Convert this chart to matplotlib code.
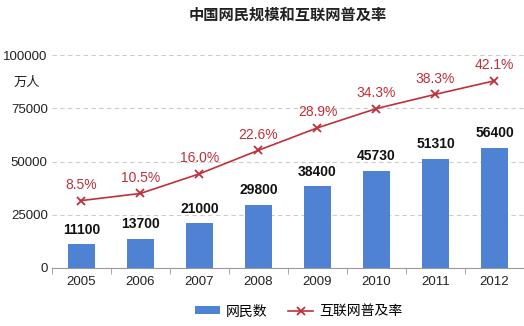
import matplotlib
matplotlib.use("Agg")
import matplotlib.pyplot as plt
import numpy as np

plt.rcParams["font.family"] = ["Liberation Sans", "Noto Sans CJK SC", "DejaVu Sans"]

years = ["2005", "2006", "2007", "2008", "2009", "2010", "2011", "2012"]
users = [11100, 13700, 21000, 29800, 38400, 45730, 51310, 56400]
rate = [8.5, 10.5, 16.0, 22.6, 28.9, 34.3, 38.3, 42.1]

BAR = "#4f82d3"
RED = "#c0303a"

fig = plt.figure(figsize=(5.24, 3.26), dpi=100)
ax = fig.add_axes([0.099, 0.178, 0.901, 0.653])
x = np.arange(len(years))

ax.bar(x, users, width=0.47, color=BAR, zorder=2, label="网民数")
for xi, v in zip(x, users):
    ax.text(xi, v + 3500, f"{v}", ha="center", va="bottom", fontsize=10,
            fontweight="bold", color="#111111")

ax.set_xlim(-0.5, len(years) - 0.5)
ax.set_ylim(0, 100000)
ax.set_yticks([0, 25000, 50000, 75000, 100000])
ax.grid(axis="y", ls=(0, (4, 3)), color="#cccccc", lw=0.8, zorder=0)
ax.set_xticks(x)
ax.set_xticklabels(years, fontsize=9.5, color="#222222")
ax.set_xticks(np.arange(-0.5, len(years), 1), minor=True)
ax.tick_params(axis="x", which="major", length=0, pad=6)
ax.tick_params(axis="x", which="minor", length=4, color="#999999", direction="out")
ax.tick_params(axis="y", length=0, labelsize=9.5, labelcolor="#222222", pad=3)
for s in ["top", "right", "left"]:
    ax.spines[s].set_visible(False)
ax.spines["bottom"].set_color("#999999")
ax.text(-0.025, 0.87, "万人", transform=ax.transAxes, ha="right", va="center",
        fontsize=9.5, color="#222222")

ax2 = ax.twinx()
ax2.plot(x, rate, color=RED, lw=1.2, marker="x", ms=6, mew=1.3, label="互联网普及率")
for xi, r in zip(x, rate):
    ax2.text(xi, r + 2.4, f"{r:.1f}%", ha="center", va="bottom", fontsize=10,
             color=RED)
ax2.set_ylim(-10.4, 49.3)
ax2.set_yticks([])
for s in ax2.spines.values():
    s.set_visible(False)

fig.suptitle("中国网民规模和互联网普及率", x=0.55, y=0.975, fontsize=11,
             fontweight="bold", color="#222222")

h1, l1 = ax.get_legend_handles_labels()
h2, l2 = ax2.get_legend_handles_labels()
fig.legend(h1 + h2, l1 + l2, loc="center", bbox_to_anchor=(0.57, 0.045), ncol=2,
           frameon=False, fontsize=10, handlelength=1.8, handletextpad=0.4,
           columnspacing=1.5, handleheight=0.5)

fig.savefig("out.png", dpi=100)
